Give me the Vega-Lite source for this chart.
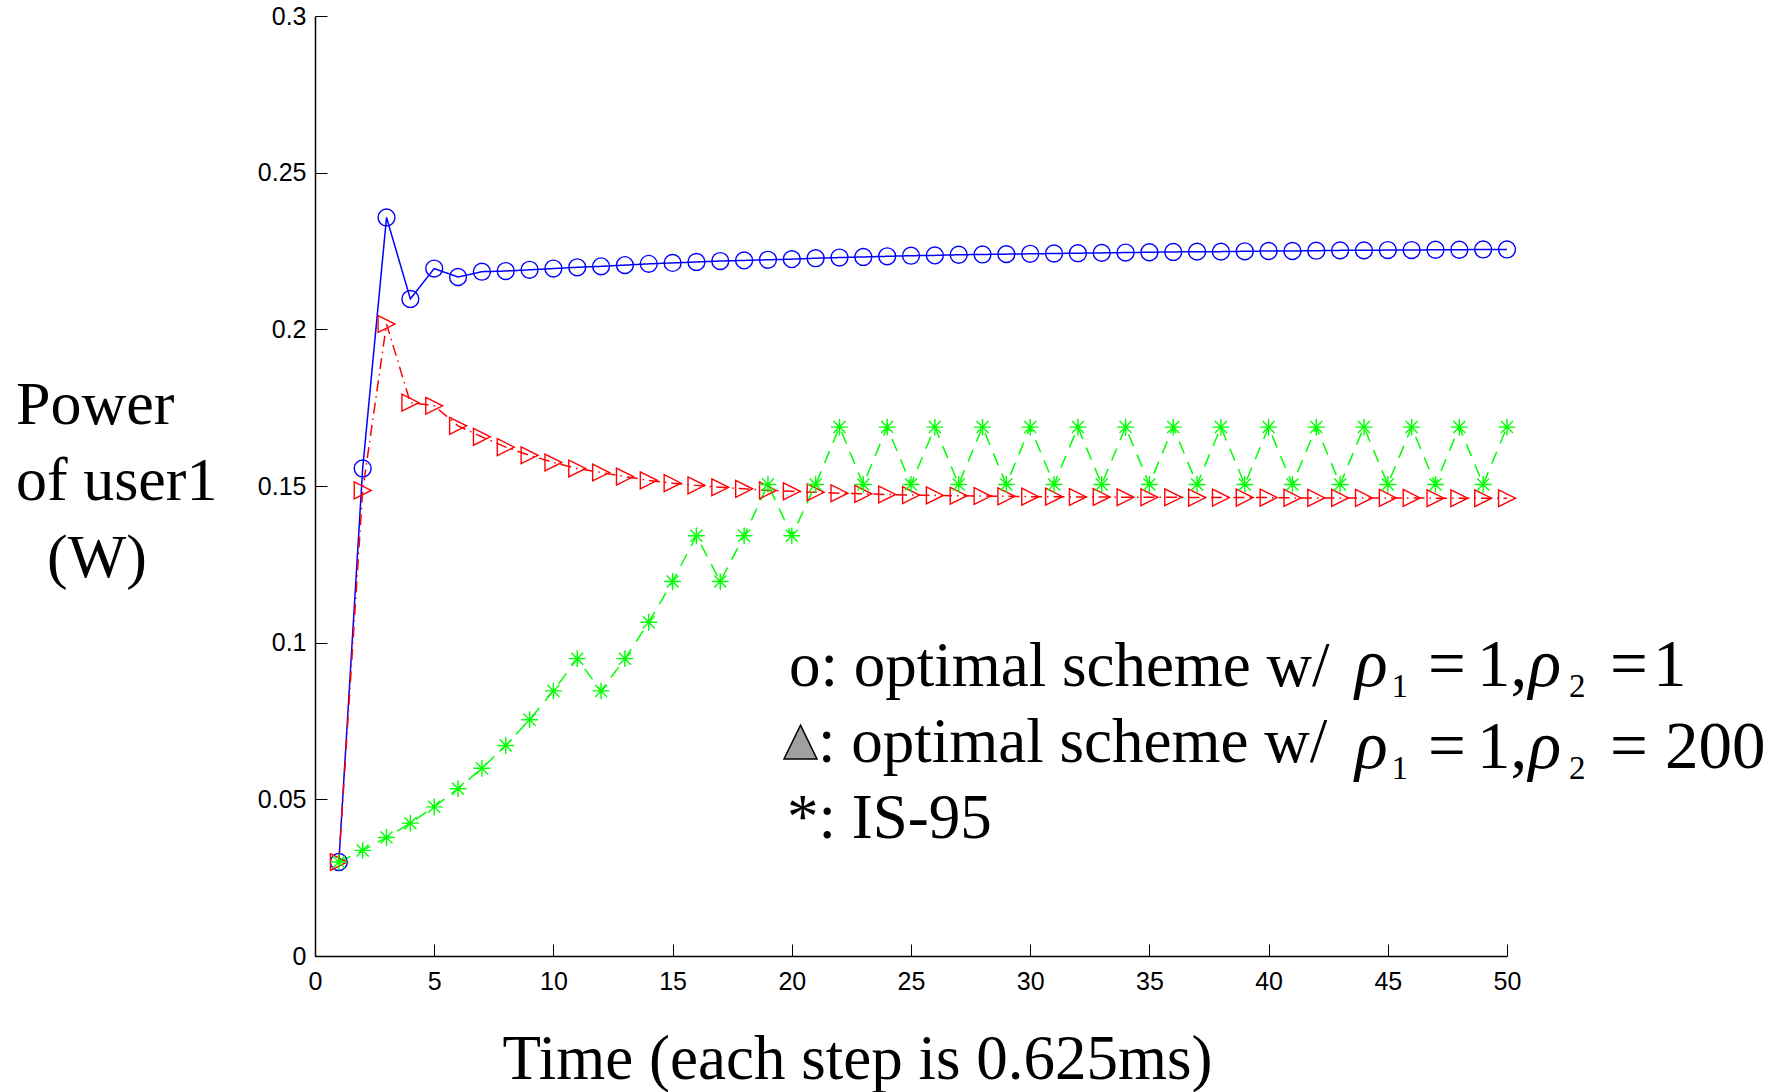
{
  "$schema": "https://vega.github.io/schema/vega-lite/v6.json",
  "width": 1192,
  "height": 940,
  "autosize": {"type": "none"},
  "padding": {"left": 315, "top": 16, "right": 278, "bottom": 136},
  "background": "white",
  "config": {"view": {"stroke": null}},
  "datasets": {
    "one": [{}],
    "power": [
      {"t": 1, "p": 0.0300, "s": "opt1"}, {"t": 2, "p": 0.1556, "s": "opt1"}, {"t": 3, "p": 0.2357, "s": "opt1"}, {"t": 4, "p": 0.2097, "s": "opt1"}, {"t": 5, "p": 0.2194, "s": "opt1"},
      {"t": 6, "p": 0.2167, "s": "opt1"}, {"t": 7, "p": 0.2184, "s": "opt1"}, {"t": 8, "p": 0.2186, "s": "opt1"}, {"t": 9, "p": 0.2190, "s": "opt1"}, {"t": 10, "p": 0.2194, "s": "opt1"},
      {"t": 11, "p": 0.2198, "s": "opt1"}, {"t": 12, "p": 0.2201, "s": "opt1"}, {"t": 13, "p": 0.2205, "s": "opt1"}, {"t": 14, "p": 0.2209, "s": "opt1"}, {"t": 15, "p": 0.2212, "s": "opt1"},
      {"t": 16, "p": 0.2215, "s": "opt1"}, {"t": 17, "p": 0.2218, "s": "opt1"}, {"t": 18, "p": 0.2220, "s": "opt1"}, {"t": 19, "p": 0.2222, "s": "opt1"}, {"t": 20, "p": 0.2224, "s": "opt1"},
      {"t": 21, "p": 0.2227, "s": "opt1"}, {"t": 22, "p": 0.2229, "s": "opt1"}, {"t": 23, "p": 0.2231, "s": "opt1"}, {"t": 24, "p": 0.2233, "s": "opt1"}, {"t": 25, "p": 0.2235, "s": "opt1"},
      {"t": 26, "p": 0.2236, "s": "opt1"}, {"t": 27, "p": 0.2238, "s": "opt1"}, {"t": 28, "p": 0.2239, "s": "opt1"}, {"t": 29, "p": 0.2240, "s": "opt1"}, {"t": 30, "p": 0.2241, "s": "opt1"},
      {"t": 31, "p": 0.2242, "s": "opt1"}, {"t": 32, "p": 0.2243, "s": "opt1"}, {"t": 33, "p": 0.2244, "s": "opt1"}, {"t": 34, "p": 0.2245, "s": "opt1"}, {"t": 35, "p": 0.2246, "s": "opt1"},
      {"t": 36, "p": 0.2247, "s": "opt1"}, {"t": 37, "p": 0.2248, "s": "opt1"}, {"t": 38, "p": 0.2248, "s": "opt1"}, {"t": 39, "p": 0.2249, "s": "opt1"}, {"t": 40, "p": 0.2250, "s": "opt1"},
      {"t": 41, "p": 0.2250, "s": "opt1"}, {"t": 42, "p": 0.2251, "s": "opt1"}, {"t": 43, "p": 0.2252, "s": "opt1"}, {"t": 44, "p": 0.2252, "s": "opt1"}, {"t": 45, "p": 0.2253, "s": "opt1"},
      {"t": 46, "p": 0.2253, "s": "opt1"}, {"t": 47, "p": 0.2254, "s": "opt1"}, {"t": 48, "p": 0.2254, "s": "opt1"}, {"t": 49, "p": 0.2255, "s": "opt1"}, {"t": 50, "p": 0.2255, "s": "opt1"},

      {"t": 1, "p": 0.0300, "s": "opt200"}, {"t": 2, "p": 0.1486, "s": "opt200"}, {"t": 3, "p": 0.2017, "s": "opt200"}, {"t": 4, "p": 0.1766, "s": "opt200"}, {"t": 5, "p": 0.1756, "s": "opt200"},
      {"t": 6, "p": 0.1692, "s": "opt200"}, {"t": 7, "p": 0.1657, "s": "opt200"}, {"t": 8, "p": 0.1624, "s": "opt200"}, {"t": 9, "p": 0.1598, "s": "opt200"}, {"t": 10, "p": 0.1575, "s": "opt200"},
      {"t": 11, "p": 0.1556, "s": "opt200"}, {"t": 12, "p": 0.1543, "s": "opt200"}, {"t": 13, "p": 0.1530, "s": "opt200"}, {"t": 14, "p": 0.1518, "s": "opt200"}, {"t": 15, "p": 0.1509, "s": "opt200"},
      {"t": 16, "p": 0.1502, "s": "opt200"}, {"t": 17, "p": 0.1496, "s": "opt200"}, {"t": 18, "p": 0.1491, "s": "opt200"}, {"t": 19, "p": 0.1486, "s": "opt200"}, {"t": 20, "p": 0.1483, "s": "opt200"},
      {"t": 21, "p": 0.1480, "s": "opt200"}, {"t": 22, "p": 0.1477, "s": "opt200"}, {"t": 23, "p": 0.1475, "s": "opt200"}, {"t": 24, "p": 0.1473, "s": "opt200"}, {"t": 25, "p": 0.1471, "s": "opt200"},
      {"t": 26, "p": 0.1470, "s": "opt200"}, {"t": 27, "p": 0.1469, "s": "opt200"}, {"t": 28, "p": 0.1468, "s": "opt200"}, {"t": 29, "p": 0.1467, "s": "opt200"}, {"t": 30, "p": 0.1466, "s": "opt200"},
      {"t": 31, "p": 0.1466, "s": "opt200"}, {"t": 32, "p": 0.1465, "s": "opt200"}, {"t": 33, "p": 0.1465, "s": "opt200"}, {"t": 34, "p": 0.1464, "s": "opt200"}, {"t": 35, "p": 0.1464, "s": "opt200"},
      {"t": 36, "p": 0.1464, "s": "opt200"}, {"t": 37, "p": 0.1463, "s": "opt200"}, {"t": 38, "p": 0.1463, "s": "opt200"}, {"t": 39, "p": 0.1463, "s": "opt200"}, {"t": 40, "p": 0.1463, "s": "opt200"},
      {"t": 41, "p": 0.1462, "s": "opt200"}, {"t": 42, "p": 0.1462, "s": "opt200"}, {"t": 43, "p": 0.1462, "s": "opt200"}, {"t": 44, "p": 0.1462, "s": "opt200"}, {"t": 45, "p": 0.1462, "s": "opt200"},
      {"t": 46, "p": 0.1462, "s": "opt200"}, {"t": 47, "p": 0.1461, "s": "opt200"}, {"t": 48, "p": 0.1461, "s": "opt200"}, {"t": 49, "p": 0.1461, "s": "opt200"}, {"t": 50, "p": 0.1461, "s": "opt200"},

      {"t": 1, "p": 0.0300, "s": "is95"}, {"t": 2, "p": 0.0337, "s": "is95"}, {"t": 3, "p": 0.0378, "s": "is95"}, {"t": 4, "p": 0.0424, "s": "is95"}, {"t": 5, "p": 0.0476, "s": "is95"},
      {"t": 6, "p": 0.0534, "s": "is95"}, {"t": 7, "p": 0.0599, "s": "is95"}, {"t": 8, "p": 0.0672, "s": "is95"}, {"t": 9, "p": 0.0754, "s": "is95"}, {"t": 10, "p": 0.0846, "s": "is95"},
      {"t": 11, "p": 0.0949, "s": "is95"}, {"t": 12, "p": 0.0846, "s": "is95"}, {"t": 13, "p": 0.0949, "s": "is95"}, {"t": 14, "p": 0.1065, "s": "is95"}, {"t": 15, "p": 0.1195, "s": "is95"},
      {"t": 16, "p": 0.1341, "s": "is95"}, {"t": 17, "p": 0.1195, "s": "is95"}, {"t": 18, "p": 0.1341, "s": "is95"}, {"t": 19, "p": 0.1505, "s": "is95"}, {"t": 20, "p": 0.1341, "s": "is95"},
      {"t": 21, "p": 0.1505, "s": "is95"}, {"t": 22, "p": 0.1688, "s": "is95"}, {"t": 23, "p": 0.1505, "s": "is95"}, {"t": 24, "p": 0.1688, "s": "is95"}, {"t": 25, "p": 0.1505, "s": "is95"},
      {"t": 26, "p": 0.1688, "s": "is95"}, {"t": 27, "p": 0.1505, "s": "is95"}, {"t": 28, "p": 0.1688, "s": "is95"}, {"t": 29, "p": 0.1505, "s": "is95"}, {"t": 30, "p": 0.1688, "s": "is95"},
      {"t": 31, "p": 0.1505, "s": "is95"}, {"t": 32, "p": 0.1688, "s": "is95"}, {"t": 33, "p": 0.1505, "s": "is95"}, {"t": 34, "p": 0.1688, "s": "is95"}, {"t": 35, "p": 0.1505, "s": "is95"},
      {"t": 36, "p": 0.1688, "s": "is95"}, {"t": 37, "p": 0.1505, "s": "is95"}, {"t": 38, "p": 0.1688, "s": "is95"}, {"t": 39, "p": 0.1505, "s": "is95"}, {"t": 40, "p": 0.1688, "s": "is95"},
      {"t": 41, "p": 0.1505, "s": "is95"}, {"t": 42, "p": 0.1688, "s": "is95"}, {"t": 43, "p": 0.1505, "s": "is95"}, {"t": 44, "p": 0.1688, "s": "is95"}, {"t": 45, "p": 0.1505, "s": "is95"},
      {"t": 46, "p": 0.1688, "s": "is95"}, {"t": 47, "p": 0.1505, "s": "is95"}, {"t": 48, "p": 0.1688, "s": "is95"}, {"t": 49, "p": 0.1505, "s": "is95"}, {"t": 50, "p": 0.1688, "s": "is95"}
    ]
  },
  "layer": [
    {
      "data": {"name": "power"},
      "mark": {"type": "line", "strokeWidth": 1.5},
      "encoding": {
        "x": {
          "field": "t", "type": "quantitative",
          "scale": {"domain": [0, 50], "nice": false, "zero": false},
          "axis": {
            "values": [0, 5, 10, 15, 20, 25, 30, 35, 40, 45, 50],
            "format": "d",
            "grid": false,
            "tickSize": -12, "tickColor": "black", "tickWidth": 1,
            "domainColor": "black", "domainWidth": 1.5,
            "labelFont": "Liberation Sans", "labelFontSize": 25, "labelColor": "black",
            "labelPadding": 25, "labelFlush": false, "labelOverlap": false,
            "title": "Time (each step is 0.625ms)",
            "titleFont": "Liberation Serif", "titleFontSize": 63, "titleFontWeight": "normal", "titleColor": "black",
            "titleX": 542, "titleY": 122, "titleAlign": "center", "titleBaseline": "alphabetic", "titleAngle": 0
          }
        },
        "y": {
          "field": "p", "type": "quantitative",
          "scale": {"domain": [0, 0.3], "nice": false, "zero": false},
          "axis": {
            "values": [0, 0.05, 0.1, 0.15, 0.2, 0.25, 0.3],
            "format": "~g",
            "grid": false,
            "tickSize": -12, "tickColor": "black", "tickWidth": 1,
            "domainColor": "black", "domainWidth": 1.5,
            "labelFont": "Liberation Sans", "labelFontSize": 25, "labelColor": "black",
            "labelPadding": 21, "labelOverlap": false, "labelFlush": false,
            "title": ["Power", "of user1", "\u200b\u2002(W)"],
            "titleFont": "Liberation Serif", "titleFontSize": 62, "titleFontWeight": "normal", "titleColor": "black",
            "titleAngle": 0, "titleAlign": "left", "titleBaseline": "alphabetic",
            "titleX": -299.5, "titleY": 407, "titleLineHeight": 76.7
          }
        },
        "color": {"field": "s", "type": "nominal", "scale": {"domain": ["opt1", "opt200", "is95"], "range": ["#0000ff", "#ff0000", "#00ff00"]}, "legend": null},
        "strokeDash": {"field": "s", "type": "nominal", "scale": {"domain": ["opt1", "opt200", "is95"], "range": [[1, 0], [11, 5, 1.5, 5], [13, 9]]}, "legend": null},
        "detail": {"field": "s"}
      }
    },
    {
      "data": {"name": "power"},
      "mark": {"type": "point", "filled": false, "strokeWidth": 1.4, "size": 285, "opacity": 1},
      "encoding": {
        "x": {"field": "t", "type": "quantitative"},
        "y": {"field": "p", "type": "quantitative"},
        "color": {"field": "s", "type": "nominal", "scale": {"domain": ["opt1", "opt200", "is95"], "range": ["#0000ff", "#ff0000", "#00ff00"]}, "legend": null},
        "shape": {"field": "s", "type": "nominal", "scale": {"domain": ["opt1", "opt200", "is95"], "range": ["circle", "M-1,-1L1,0L-1,1Z", "M-1,0L1,0M0,-1L0,1M-0.71,-0.71L0.71,0.71M-0.71,0.71L0.71,-0.71"]}, "legend": null}
      }
    },
    {
      "data": {"name": "one"},
      "mark": {"type": "point", "shape": "M0,-1.05L1,1L-1,1Z", "filled": true, "fill": "#a0a0a0", "stroke": "black", "strokeWidth": 1.5, "size": 1089, "opacity": 1},
      "encoding": {"x": {"datum": 20.365, "type": "quantitative"}, "y": {"datum": 0.06814, "type": "quantitative"}}
    },
    {
      "data": {"name": "one"},
      "mark": {"type": "text", "text": "o: optimal scheme w/", "font": "Liberation Serif", "fontSize": 63, "align": "left", "baseline": "alphabetic", "color": "black"},
      "encoding": {"x": {"datum": 19.88, "type": "quantitative"}, "y": {"datum": 0.08617, "type": "quantitative"}}
    },
    {
      "data": {"name": "one"},
      "mark": {"type": "text", "text": ": optimal scheme w/", "font": "Liberation Serif", "fontSize": 63, "align": "left", "baseline": "alphabetic", "color": "black"},
      "encoding": {"x": {"datum": 21.10, "type": "quantitative"}, "y": {"datum": 0.06201, "type": "quantitative"}}
    },
    {
      "data": {"name": "one"},
      "mark": {"type": "text", "text": "*: IS-95", "font": "Liberation Serif", "fontSize": 63, "align": "left", "baseline": "alphabetic", "color": "black"},
      "encoding": {"x": {"datum": 19.80, "type": "quantitative"}, "y": {"datum": 0.03766, "type": "quantitative"}}
    },
    {
      "data": {"name": "one"},
      "mark": {"type": "text", "text": "ρ", "font": "Liberation Serif", "fontStyle": "italic", "fontSize": 68, "align": "left", "baseline": "alphabetic", "color": "black"},
      "encoding": {"x": {"datum": 43.62, "type": "quantitative"}, "y": {"datum": 0.08617, "type": "quantitative"}}
    },
    {
      "data": {"name": "one"},
      "mark": {"type": "text", "text": "1", "font": "Liberation Serif", "fontSize": 33, "align": "left", "baseline": "alphabetic", "color": "black"},
      "encoding": {"x": {"datum": 45.16, "type": "quantitative"}, "y": {"datum": 0.08266, "type": "quantitative"}}
    },
    {
      "data": {"name": "one"},
      "mark": {"type": "text", "text": "=", "font": "Liberation Serif", "fontSize": 67, "align": "left", "baseline": "alphabetic", "color": "black"},
      "encoding": {"x": {"datum": 46.69, "type": "quantitative"}, "y": {"datum": 0.08617, "type": "quantitative"}}
    },
    {
      "data": {"name": "one"},
      "mark": {"type": "text", "text": "1,", "font": "Liberation Serif", "fontSize": 67, "align": "left", "baseline": "alphabetic", "color": "black"},
      "encoding": {"x": {"datum": 48.74, "type": "quantitative"}, "y": {"datum": 0.08617, "type": "quantitative"}}
    },
    {
      "data": {"name": "one"},
      "mark": {"type": "text", "text": "ρ", "font": "Liberation Serif", "fontStyle": "italic", "fontSize": 68, "align": "left", "baseline": "alphabetic", "color": "black"},
      "encoding": {"x": {"datum": 50.90, "type": "quantitative"}, "y": {"datum": 0.08617, "type": "quantitative"}}
    },
    {
      "data": {"name": "one"},
      "mark": {"type": "text", "text": "2", "font": "Liberation Serif", "fontSize": 33, "align": "left", "baseline": "alphabetic", "color": "black"},
      "encoding": {"x": {"datum": 52.60, "type": "quantitative"}, "y": {"datum": 0.08266, "type": "quantitative"}}
    },
    {
      "data": {"name": "one"},
      "mark": {"type": "text", "text": "=", "font": "Liberation Serif", "fontSize": 67, "align": "left", "baseline": "alphabetic", "color": "black"},
      "encoding": {"x": {"datum": 54.32, "type": "quantitative"}, "y": {"datum": 0.08617, "type": "quantitative"}}
    },
    {
      "data": {"name": "one"},
      "mark": {"type": "text", "text": "1", "font": "Liberation Serif", "fontSize": 67, "align": "left", "baseline": "alphabetic", "color": "black"},
      "encoding": {"x": {"datum": 56.12, "type": "quantitative"}, "y": {"datum": 0.08617, "type": "quantitative"}}
    },
    {
      "data": {"name": "one"},
      "mark": {"type": "text", "text": "ρ", "font": "Liberation Serif", "fontStyle": "italic", "fontSize": 68, "align": "left", "baseline": "alphabetic", "color": "black"},
      "encoding": {"x": {"datum": 43.62, "type": "quantitative"}, "y": {"datum": 0.06, "type": "quantitative"}}
    },
    {
      "data": {"name": "one"},
      "mark": {"type": "text", "text": "1", "font": "Liberation Serif", "fontSize": 33, "align": "left", "baseline": "alphabetic", "color": "black"},
      "encoding": {"x": {"datum": 45.16, "type": "quantitative"}, "y": {"datum": 0.05649, "type": "quantitative"}}
    },
    {
      "data": {"name": "one"},
      "mark": {"type": "text", "text": "=", "font": "Liberation Serif", "fontSize": 67, "align": "left", "baseline": "alphabetic", "color": "black"},
      "encoding": {"x": {"datum": 46.69, "type": "quantitative"}, "y": {"datum": 0.06, "type": "quantitative"}}
    },
    {
      "data": {"name": "one"},
      "mark": {"type": "text", "text": "1,", "font": "Liberation Serif", "fontSize": 67, "align": "left", "baseline": "alphabetic", "color": "black"},
      "encoding": {"x": {"datum": 48.74, "type": "quantitative"}, "y": {"datum": 0.06, "type": "quantitative"}}
    },
    {
      "data": {"name": "one"},
      "mark": {"type": "text", "text": "ρ", "font": "Liberation Serif", "fontStyle": "italic", "fontSize": 68, "align": "left", "baseline": "alphabetic", "color": "black"},
      "encoding": {"x": {"datum": 50.90, "type": "quantitative"}, "y": {"datum": 0.06, "type": "quantitative"}}
    },
    {
      "data": {"name": "one"},
      "mark": {"type": "text", "text": "2", "font": "Liberation Serif", "fontSize": 33, "align": "left", "baseline": "alphabetic", "color": "black"},
      "encoding": {"x": {"datum": 52.60, "type": "quantitative"}, "y": {"datum": 0.05649, "type": "quantitative"}}
    },
    {
      "data": {"name": "one"},
      "mark": {"type": "text", "text": "=", "font": "Liberation Serif", "fontSize": 67, "align": "left", "baseline": "alphabetic", "color": "black"},
      "encoding": {"x": {"datum": 54.32, "type": "quantitative"}, "y": {"datum": 0.06, "type": "quantitative"}}
    },
    {
      "data": {"name": "one"},
      "mark": {"type": "text", "text": "200", "font": "Liberation Serif", "fontSize": 67, "align": "left", "baseline": "alphabetic", "color": "black"},
      "encoding": {"x": {"datum": 56.63, "type": "quantitative"}, "y": {"datum": 0.06, "type": "quantitative"}}
    }
  ]
}
